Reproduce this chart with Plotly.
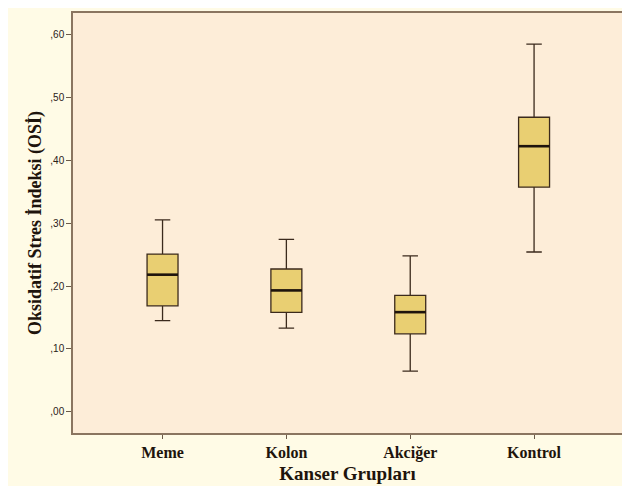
import plotly.graph_objects as go

categories = ["Meme", "Kolon", "Akciğer", "Kontrol"]
lower_whisker = [0.145, 0.133, 0.065, 0.254]
q1_vals = [0.1685, 0.158, 0.124, 0.357]
median_vals = [0.218, 0.193, 0.1585, 0.422]
q3_vals = [0.2507, 0.227, 0.185, 0.468]
upper_whisker = [0.305, 0.274, 0.248, 0.584]
y_tick_vals = [0.0, 0.1, 0.2, 0.3, 0.4, 0.5, 0.6]
y_tick_text = [",00", ",10", ",20", ",30", ",40", ",50", ",60"]

positions = list(range(len(categories)))
box_w = 0.25
line_col = "#3b2a1c"

fig = go.Figure()
fig.add_trace(go.Box(
    x=positions, q1=q1_vals, median=median_vals, q3=q3_vals,
    lowerfence=lower_whisker, upperfence=upper_whisker,
    width=box_w, whiskerwidth=0.5,
    fillcolor="#e9cf72", line=dict(color=line_col, width=1.3),
    boxpoints=False, showlegend=False, hoverinfo="skip",
))
for p, m in zip(positions, median_vals):
    fig.add_trace(go.Scatter(
        x=[p - box_w / 2, p + box_w / 2], y=[m, m], mode="lines",
        line=dict(color="#1e140c", width=2.6), showlegend=False, hoverinfo="skip",
    ))

serif = "Liberation Serif"
fig.update_layout(
    width=614, height=478,
    margin=dict(l=65, r=0, t=5, b=53),
    paper_bgcolor="#fffbe6", plot_bgcolor="#fdedd8",
    font=dict(family=serif, color="#1e140c"),
    xaxis=dict(
        range=[-0.723, 3.71], tickvals=positions, ticktext=categories,
        showgrid=False, zeroline=False, showline=True, linecolor="#8a7560",
        linewidth=1.5, mirror=True, ticks="outside", ticklen=4, tickcolor="#6b5a48",
        tickfont=dict(family=serif, size=16, color="#1e140c", weight="bold"),
        title=dict(text="<b>Kanser Grupları</b>", font=dict(family=serif, size=19), standoff=6),
    ),
    yaxis=dict(
        range=[-0.0334, 0.6335], tickvals=y_tick_vals, ticktext=y_tick_text,
        showgrid=False, zeroline=False, showline=True, linecolor="#8a7560",
        linewidth=1.5, ticks="outside", ticklen=5, tickcolor="#6b5a48",
        tickfont=dict(family="Liberation Sans", size=10, color="#2a2018"),
        title=dict(text="<b>Oksidatif Stres İndeksi (OSİ)</b>", font=dict(family=serif, size=18), standoff=4),
    ),
)
fig.write_html(
    "out.html",
    post_script="document.body.style.margin='8px 0 0 8px';document.body.style.overflow='hidden';",
)
